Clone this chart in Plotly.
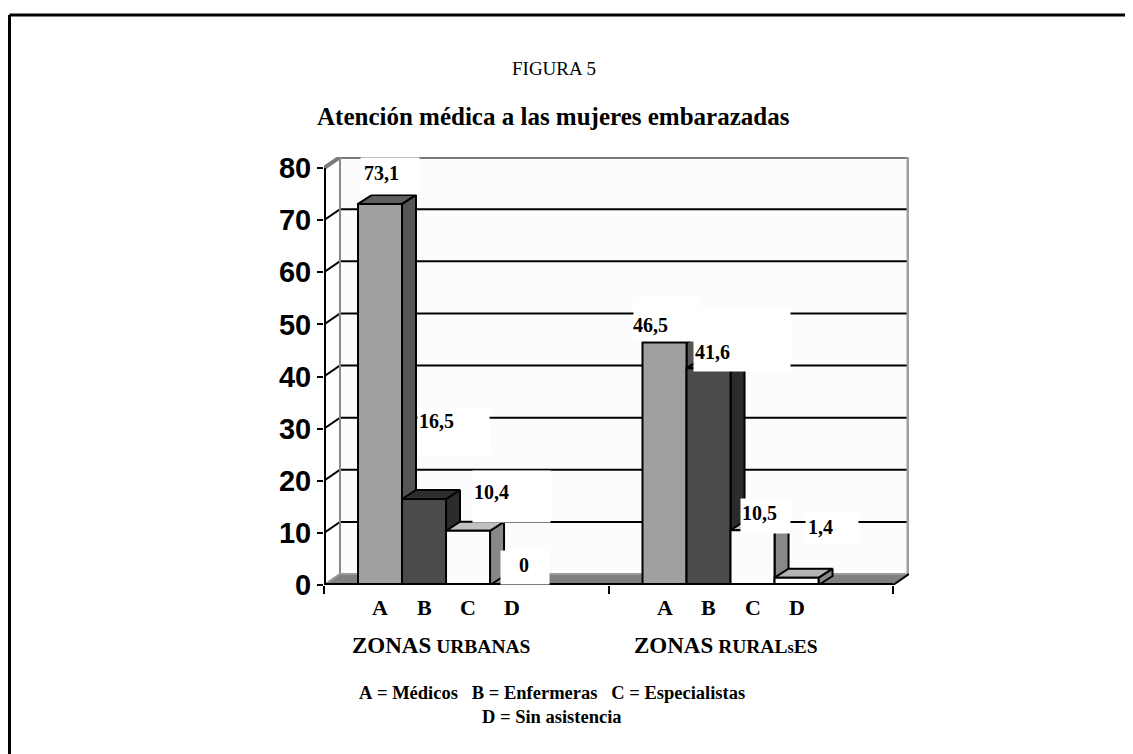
import plotly.graph_objects as go

# ============================ DATA ===============================
zonas = ['ZONAS URBANAS', 'ZONAS RURALsES']
zona_html = ['<span style="font-size:23px">ZONAS</span> URBANAS',
             '<span style="font-size:23px">ZONAS</span> RURAL<span style="font-size:16px">s</span>ES']
categorias = ['A', 'B', 'C', 'D']
urbanas = [73.1, 16.5, 10.4, 0]
rurales = [46.5, 41.6, 10.5, 1.4]
valores = [urbanas, rurales]
y_ticks = [0, 10, 20, 30, 40, 50, 60, 70, 80]

titulo = 'FIGURA 5'
subtitulo = 'Atención médica a las mujeres embarazadas'
leyenda_1 = 'A = Médicos   B = Enfermeras   C = Especialistas'
leyenda_2 = 'D = Sin asistencia'

# ============================ STYLE ===============================
OFF = 8                                   # page margin of the html body
W, H = 1133 - OFF, 754 - OFF
L, R, T, B = 324, 909, 157, 585           # plot area in page pixels
WALL_DX, WALL_DY = 0.0562, 2.11           # depth of the 3D box (x units, y units)
BAR_DX, BAR_DY = 0.0492, 1.73             # depth of each bar
BAR_W = 0.1547
GROUP_PAD = 0.1195
XMAX = 2 + WALL_DX
YMAX = 80 + WALL_DY

SERIF = 'Liberation Serif, Times New Roman, serif'
SANS = 'Liberation Sans, Arial, sans-serif'

# front / side / top colours per category
front_col = ['#a0a0a0', '#4b4b4b', '#fcfcfc', '#fcfcfc']
side_col = ['#555555', '#2b2b2b', '#888888', '#888888']
top_col = ['#5e5e5e', '#2d2d2d', '#c0c0c0', '#b4b4b4']

# label boxes: (dx from bar centre px, dy from bar top px, width, height), text offsets
label_box = [[(-20, -47, 58, 36), (-7, -91, 71, 46), (4, -61, 77, 51), (-12, -35, 48, 33)],
             [(-32, -46, 65, 43), (-16, -61, 96, 63), (-13, -32, 49, 34), (8, -66, 52, 31)]]
label_txt = [[(1, -31), (12.5, -78), (23.5, -39), (12, -20)],
             [(-14, -18), (3.5, -16), (7, -17), (24, -51)]]


def px_x(p):
    return (p - L) / (R - L)


def px_y(p):
    return (B - p) / (B - T)


def poly(xs, ys, fill, line='black', lw=2):
    return go.Scatter(x=xs + [xs[0]], y=ys + [ys[0]], mode='lines', fill='toself',
                      fillcolor=fill, line=dict(color=line, width=lw),
                      hoverinfo='skip', showlegend=False)


def seg(xs, ys, color, lw):
    return go.Scatter(x=xs, y=ys, mode='lines', line=dict(color=color, width=lw),
                      hoverinfo='skip', showlegend=False)


fig = go.Figure()

# ---- walls and floor
fig.add_trace(poly([WALL_DX, XMAX, XMAX, WALL_DX], [WALL_DY, WALL_DY, YMAX, YMAX], '#fcfcfc', 'rgba(0,0,0,0)', 0))
fig.add_trace(poly([0, WALL_DX, WALL_DX, 0], [0, WALL_DY, YMAX, 80], '#ffffff', 'rgba(0,0,0,0)', 0))
fig.add_trace(poly([0, 2, XMAX, WALL_DX], [0, 0, WALL_DY, WALL_DY], '#808080', 'rgba(0,0,0,0)', 0))

for v in y_ticks[1:-1]:
    fig.add_trace(seg([0, WALL_DX, XMAX], [v, v + WALL_DY, v + WALL_DY], 'black', 2))

fig.add_trace(seg([0, WALL_DX, XMAX], [80, YMAX, YMAX], '#7a7a7a', 4))
fig.add_trace(seg([WALL_DX, WALL_DX], [WALL_DY, YMAX], '#8a8a8a', 2))
fig.add_trace(seg([XMAX, XMAX], [WALL_DY, YMAX], '#a0a0a0', 5))
fig.add_trace(seg([0, WALL_DX, XMAX], [0, WALL_DY, WALL_DY], '#9a9a9a', 2))

# ---- bars
centros = []
for g, serie in enumerate(valores):
    fila = []
    for i, v in enumerate(serie):
        c = g + GROUP_PAD + (i + 0.5) * BAR_W
        fila.append(c)
        if v <= 0:
            continue
        x0, x1 = c - BAR_W / 2, c + BAR_W / 2
        fig.add_trace(poly([x1, x1 + BAR_DX, x1 + BAR_DX, x1], [0, BAR_DY, v + BAR_DY, v], side_col[i]))
        fig.add_trace(poly([x0, x0 + BAR_DX, x1 + BAR_DX, x1], [v, v + BAR_DY, v + BAR_DY, v], top_col[i]))
        fig.add_trace(poly([x0, x1, x1, x0], [0, 0, v, v], front_col[i]))
    centros.append(fila)

# ---- front axis lines
fig.add_trace(seg([0, 0], [0, 80], 'black', 4))
fig.add_trace(seg([0, 2], [0, 0], 'black', 4))
fig.add_trace(seg([2, XMAX], [0, WALL_DY], 'black', 2))

# ---- annotations
ann = []
for g, serie in enumerate(valores):
    for i, v in enumerate(serie):
        c = centros[g][i]
        bx, by, bw, bh = label_box[g][i]
        ann.append(dict(x=c, y=v, xref='x', yref='y', text=' ', showarrow=False,
                        width=bw, height=bh, bgcolor='white', borderpad=0,
                        xanchor='left', yanchor='top', xshift=bx, yshift=-by))
        tx, ty = label_txt[g][i]
        txt = ('%.1f' % v).replace('.', ',') if v != 0 else '0'
        ann.append(dict(x=c, y=v, xref='x', yref='y', text='<b>%s</b>' % txt, showarrow=False,
                        font=dict(family=SERIF, size=20, color='black'),
                        xanchor='center', yanchor='middle', xshift=tx, yshift=-ty))
        ann.append(dict(x=c, y=0, xref='x', yref='y', text='<b>%s</b>' % categorias[i],
                        showarrow=False, font=dict(family=SERIF, size=22, color='black'),
                        xanchor='center', yanchor='middle', yshift=-22))
    ann.append(dict(x=g + 0.5, y=0, xref='x', yref='y', text='<b>%s</b>' % zona_html[g],
                    showarrow=False, font=dict(family=SERIF, size=19.5, color='black'),
                    xanchor='center', yanchor='middle', xshift=-25, yshift=-60))

ann.append(dict(x=px_x(554), y=px_y(68), xref='paper', yref='paper', text=titulo, showarrow=False,
                font=dict(family=SERIF, size=19, color='black'), xanchor='center', yanchor='middle'))
ann.append(dict(x=px_x(553), y=px_y(116), xref='paper', yref='paper', text='<b>%s</b>' % subtitulo,
                showarrow=False, font=dict(family=SERIF, size=25, color='black'),
                xanchor='center', yanchor='middle'))
ann.append(dict(x=px_x(552), y=px_y(693), xref='paper', yref='paper',
                text='<b>%s</b>' % leyenda_1.replace(' ', '&nbsp;'), showarrow=False,
                font=dict(family=SERIF, size=18.5, color='black'), xanchor='center', yanchor='middle'))
ann.append(dict(x=px_x(552), y=px_y(717), xref='paper', yref='paper', text='<b>%s</b>' % leyenda_2,
                showarrow=False, font=dict(family=SERIF, size=18.5, color='black'),
                xanchor='center', yanchor='middle'))

# outer frame (left and top only)
shapes = [
    dict(type='line', xref='paper', yref='paper', x0=px_x(9.5), x1=px_x(1145), y0=px_y(15), y1=px_y(15),
         line=dict(color='black', width=3)),
    dict(type='line', xref='paper', yref='paper', x0=px_x(9.5), x1=px_x(9.5), y0=px_y(15), y1=px_y(770),
         line=dict(color='black', width=3)),
]

fig.update_layout(
    width=W, height=H,
    margin=dict(l=L - OFF, r=W - (R - OFF), t=T - OFF, b=H - (B - OFF)),
    paper_bgcolor='white',
    plot_bgcolor='white',
    showlegend=False,
    annotations=ann,
    shapes=shapes,
    xaxis=dict(range=[0, XMAX], showgrid=False, zeroline=False, showline=False,
               tickvals=[0, 1, 2], ticks='outside', ticklen=8, tickwidth=2, tickcolor='black',
               showticklabels=False, fixedrange=True),
    yaxis=dict(range=[0, YMAX], showgrid=False, zeroline=False, showline=False,
               tickvals=y_ticks, ticks='outside', ticklen=6, tickwidth=2, tickcolor='black',
               tickfont=dict(family=SANS, size=29, color='black', weight='bold'), fixedrange=True),
)

fig.write_html("out.html")
